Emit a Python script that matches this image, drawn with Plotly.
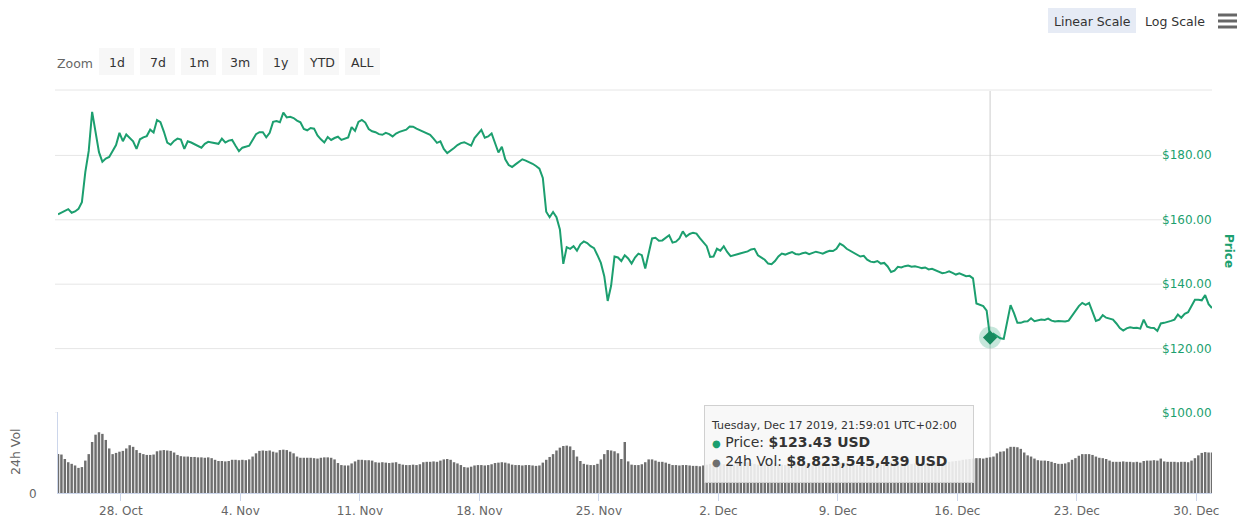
import pandas as pd
import plotly.graph_objects as go

# ---- data -------------------------------------------------------------
# sampling: one point every 4h48m, local time (UTC+02:00)
start_time = "2019-10-24 07:35:01"
step = "4h48min"

price_usd = [
    161.7, 162.3, 162.8, 163.3, 162.2, 162.6, 163.4, 165.5, 174.8, 181.4,
    193.5, 187.0, 181.0, 178.0, 179.0, 179.5, 181.6, 183.2, 187.0, 184.4,
    186.5, 185.3, 184.4, 182.0, 185.0, 185.6, 186.0, 188.0, 187.1, 191.0,
    190.3, 187.4, 184.0, 183.3, 184.5, 185.2, 184.9, 182.0, 184.4, 184.0,
    183.5, 183.0, 182.4, 183.6, 184.2, 184.0, 183.8, 183.6, 185.2, 184.0,
    184.6, 184.8, 183.0, 181.3, 182.4, 182.6, 183.0, 184.8, 186.6, 187.2,
    187.2, 185.6, 187.0, 190.4, 190.7, 190.3, 193.3, 191.8, 192.0, 191.6,
    190.8, 190.3, 188.2, 187.8, 188.5, 188.3, 186.2, 185.0, 184.0, 185.7,
    184.8, 185.4, 185.8, 184.8, 185.2, 185.6, 188.8, 187.6, 190.4, 191.0,
    190.2, 188.2, 187.5, 187.2, 186.6, 186.4, 187.0, 186.6, 185.9, 186.8,
    187.3, 187.6, 188.0, 189.0, 188.9, 188.3, 187.8, 187.4, 187.0, 186.4,
    185.2, 183.9, 184.4, 182.0, 180.7, 181.4, 182.3, 183.2, 183.8, 184.1,
    183.6, 183.0, 185.4, 186.8, 187.9, 185.5, 185.9, 186.8, 184.0, 180.9,
    182.7, 178.8, 177.0, 176.4, 177.2, 178.0, 178.8, 178.4, 178.0, 177.4,
    176.7, 175.9, 173.0, 162.5, 160.8, 162.4, 160.8, 157.0, 146.3, 151.5,
    151.0, 151.8, 150.4, 152.4, 153.3, 152.8, 151.8, 151.2, 149.0, 146.6,
    142.5, 134.8, 139.5, 148.6, 148.3, 147.2, 149.0, 148.0, 146.4, 148.3,
    149.5, 149.0, 144.9, 150.0, 154.2, 154.4, 153.5, 153.6, 154.3, 155.2,
    152.9, 153.2, 154.2, 156.4, 154.8, 155.6, 156.0, 155.7, 154.3, 153.2,
    151.8, 148.5, 148.6, 151.0, 150.4, 151.8, 150.0, 148.7, 148.9, 149.3,
    149.6, 149.8, 150.2, 150.8, 151.0, 149.0, 148.4, 147.6, 146.4, 146.2,
    147.2, 148.6, 149.5, 149.2, 149.6, 150.0, 149.4, 149.2, 149.6, 149.8,
    149.3, 149.6, 150.1, 149.8, 149.5, 150.0, 150.4, 150.3, 151.0, 152.6,
    152.0, 151.0, 150.4, 149.6, 149.2, 148.6, 148.8, 147.6, 147.0, 146.8,
    147.2, 146.4, 146.6, 145.5, 143.8, 144.2, 145.4, 145.2, 145.6, 145.8,
    145.4, 145.6, 145.3, 145.0, 145.2, 144.6, 144.8, 144.4, 144.0, 143.4,
    143.6, 144.0, 143.5, 143.0, 143.4, 143.0, 142.5, 142.6, 141.8, 134.0,
    133.5, 133.2, 131.8, 123.43, 124.6, 124.0, 123.2, 123.0, 128.5, 133.5,
    131.0, 128.0, 128.0, 128.4, 128.5, 129.4, 128.5, 128.8, 129.0, 128.9,
    129.3, 128.7, 128.4, 128.6, 128.5, 128.4, 128.7, 130.3, 132.0, 133.2,
    134.2, 133.6, 134.2, 131.5, 128.6, 129.0, 130.4, 129.6, 129.4, 129.0,
    127.8, 126.4, 125.6, 126.3, 126.6, 126.4, 126.5, 126.2, 129.0, 126.8,
    126.5, 126.4, 125.5, 127.8, 128.0, 128.2, 128.6, 129.0, 130.6, 129.6,
    130.8, 131.3, 133.4, 135.2, 135.2, 135.0, 136.6, 133.8, 132.6,
]

# 24h volume, billions of USD
volume_busd = [
    9.6, 9.5, 8.4, 7.6, 7.2, 6.8, 6.2, 6.4, 8.0, 9.6,
    12.6, 14.4, 15.0, 14.6, 13.1, 11.0, 9.6, 9.9, 10.2, 10.4,
    11.0, 11.8, 11.4, 10.6, 9.9, 9.6, 9.4, 9.4, 9.5, 10.3,
    10.5, 10.6, 10.5, 10.4, 10.0, 9.4, 9.1, 9.0, 9.0, 8.9,
    8.9, 8.8, 8.8, 8.7, 8.8, 8.6, 8.2, 7.9, 7.9, 7.8,
    7.9, 8.2, 8.2, 8.1, 8.2, 8.1, 8.3, 9.0, 9.8, 10.4,
    10.5, 10.4, 10.5, 10.2, 10.0, 10.6, 10.7, 10.6, 10.2, 9.8,
    9.0, 8.7, 8.7, 8.7, 8.7, 8.6, 8.5, 8.7, 8.8, 8.8,
    8.7, 8.3, 7.4, 6.9, 6.8, 6.8, 7.3, 7.8, 8.2, 8.2,
    8.1, 8.1, 8.0, 7.6, 7.5, 7.6, 7.5, 7.4, 7.5, 7.6,
    7.2, 7.0, 6.9, 6.9, 7.0, 6.9, 7.1, 7.6, 7.7, 7.7,
    7.8, 7.7, 8.0, 8.3, 8.4, 8.2, 7.6, 7.3, 6.9, 6.4,
    6.3, 6.5, 6.8, 6.9, 6.9, 6.8, 6.9, 7.1, 7.4, 7.5,
    7.6, 7.5, 7.3, 7.0, 6.9, 6.9, 6.8, 6.9, 6.9, 6.8,
    6.7, 6.8, 7.5, 8.2, 8.9, 9.6, 10.5, 11.2, 11.6, 11.7,
    11.5, 10.6, 9.0, 7.9, 7.2, 7.0, 6.9, 6.9, 7.2, 8.3,
    9.6, 10.6, 10.5, 10.3, 9.8, 8.4, 12.6, 7.8, 7.0, 6.9,
    6.9, 7.1, 7.6, 8.3, 8.3, 8.0, 7.7, 7.7, 7.5, 7.2,
    6.9, 6.9, 6.8, 6.9, 6.9, 6.8, 6.7, 6.7, 6.6, 6.8,
    7.0, 7.2, 7.3, 7.4, 7.3, 7.1, 7.0, 6.9, 7.0, 7.2,
    7.5, 7.7, 7.6, 7.4, 7.2, 7.0, 6.9, 7.0, 7.3, 7.5,
    7.4, 7.2, 7.0, 6.9, 6.8, 6.9, 7.1, 7.2, 7.0, 6.9,
    6.8, 6.8, 7.0, 7.3, 7.5, 7.4, 7.2, 7.0, 7.1, 7.4,
    7.6, 7.5, 7.2, 7.0, 6.9, 6.9, 7.0, 7.2, 7.4, 7.3,
    7.1, 7.0, 7.2, 7.6, 7.8, 7.7, 7.5, 7.3, 7.2, 7.1,
    7.2, 7.3, 7.4, 7.3, 7.2, 7.3, 7.5, 7.6, 7.5, 7.4,
    7.5, 7.7, 7.8, 7.9, 8.0, 8.2, 8.3, 8.4, 8.5, 8.6,
    8.6, 8.5, 8.7, 8.823545439, 9.0, 9.8, 10.2, 10.3, 11.0, 11.4,
    11.4, 11.3, 10.9, 10.0, 9.3, 9.0, 8.5, 8.1, 8.0, 8.0,
    7.9, 7.7, 7.4, 7.2, 7.2, 7.3, 7.6, 8.2, 8.6, 9.2,
    9.6, 9.6, 9.6, 9.4, 9.0, 8.7, 8.6, 8.4, 8.0, 7.7,
    7.7, 7.7, 7.8, 7.7, 7.7, 7.6, 7.7, 7.5, 7.9, 8.0,
    8.0, 8.1, 8.0, 8.5, 7.8, 7.7, 7.7, 7.7, 7.6, 7.7,
    7.7, 7.6, 8.0, 8.6, 9.3, 9.9, 10.1, 10.0, 10.0,
]

price_ticks = [100, 120, 140, 160, 180]
range_buttons = ["1d", "7d", "1m", "3m", "1y", "YTD", "ALL"]
highlight = 273  # point under the crosshair

times = pd.date_range(start_time, periods=len(price_usd), freq=step)
volume_usd = [v * 1e9 for v in volume_busd]

# ---- styling ----------------------------------------------------------
W, H = 1242, 517
ML, MR, MT, MB = 58, 30, 91, 24
PW = W - ML - MR
PH = H - MT - MB
FONT = "DejaVu Sans"
GREEN = "#1c9f6f"
BAR = "#6e6e6e"
GRID = "#e6e6e6"
AXIS = "#ccd6eb"
PRICE_RANGE = [100, 200]
VOL_RANGE = [0, 20e9]


def px(x):
    return (x - ML) / PW


def py(y):
    return (H - MB - y) / PH


fig = go.Figure()

fig.add_trace(go.Bar(
    x=times, y=volume_usd, yaxis="y2",
    marker=dict(color=BAR, line=dict(width=0)),
    name="24h Vol", showlegend=False,
))
fig.add_trace(go.Scatter(
    x=times, y=price_usd, yaxis="y", mode="lines",
    line=dict(color=GREEN, width=2), name="Price", showlegend=False,
))
# hovered point: halo + diamond
hx, hy = times[highlight], price_usd[highlight]
fig.add_trace(go.Scatter(
    x=[hx], y=[hy], yaxis="y", mode="markers",
    marker=dict(size=22, color="rgba(28,159,111,0.25)"),
    showlegend=False, hoverinfo="skip",
))
fig.add_trace(go.Scatter(
    x=[hx], y=[hy], yaxis="y", mode="markers",
    marker=dict(size=11, symbol="diamond", color="#178a5f"),
    showlegend=False, hoverinfo="skip",
))

shapes = []
# horizontal grid lines stop short of the price labels
for v in price_ticks:
    shapes.append(dict(type="line", xref="paper", yref="y", x0=px(55), x1=px(1162),
                       y0=v, y1=v, line=dict(color=GRID, width=1), layer="below"))
# top border
shapes.append(dict(type="line", xref="paper", yref="paper", x0=px(55), x1=px(1212),
                   y0=py(90), y1=py(90), line=dict(color=GRID, width=1), layer="below"))
# crosshair through both panes
shapes.append(dict(type="line", xref="x", yref="y", x0=hx, x1=hx,
                   y0=PRICE_RANGE[0], y1=PRICE_RANGE[1] + 0.5,
                   line=dict(color="#cccccc", width=1), layer="below"))
shapes.append(dict(type="line", xref="x", yref="y2", x0=hx, x1=hx,
                   y0=VOL_RANGE[0], y1=VOL_RANGE[1],
                   line=dict(color="#cccccc", width=1), layer="below"))
# range selector buttons
btn_left = [99, 140, 181, 222, 263, 304, 345]
for bx in btn_left:
    shapes.append(dict(type="rect", xref="paper", yref="paper",
                       x0=px(bx), x1=px(bx + 35), y0=py(75), y1=py(48),
                       fillcolor="#f7f7f7", line=dict(width=0)))
# scale toggle
shapes.append(dict(type="rect", xref="paper", yref="paper",
                   x0=px(1048), x1=px(1136), y0=py(33), y1=py(8),
                   fillcolor="#e6ebf5", line=dict(width=0)))
# menu icon
for yy in (15, 21, 27):
    shapes.append(dict(type="line", xref="paper", yref="paper",
                       x0=px(1218), x1=px(1237), y0=py(yy), y1=py(yy),
                       line=dict(color="#666666", width=3)))

annotations = []


def label(text, x, y, size=12.5, color="#333333", xanchor="center", angle=0):
    annotations.append(dict(text=text, x=px(x), y=py(y), xref="paper", yref="paper",
                            xanchor=xanchor, yanchor="middle", showarrow=False,
                            textangle=angle, font=dict(family=FONT, size=size, color=color)))


label("Zoom", 75, 63, color="#666666")
for bx, name in zip(btn_left, range_buttons):
    label(name, bx + 17.5, 62)
label("Linear Scale", 1092, 21)
label("Log Scale", 1175, 21)
label("<b>Price</b>", 1229, 251, size=12, color=GREEN, angle=90)
label("24h Vol", 15, 452, size=12.5, color="#666666", angle=-90)
label("0", 33, 494, size=12, color="#666666")

# price axis labels, drawn inside the plot on the right
for v in price_ticks:
    annotations.append(dict(text=f"${v:.2f}", x=px(1214), y=v, xref="paper", yref="y",
                            xanchor="right", yanchor="middle", showarrow=False,
                            font=dict(family=FONT, size=12, color=GREEN)))

# tooltip
t = times[highlight]
tip = (
    f"<span style='font-size:11px'>{t.strftime('%A, %b %d %Y, %H:%M:%S')} UTC+02:00</span><br>"
    f"<span style='color:{GREEN};font-size:10px'>●</span> Price: <b>${price_usd[highlight]:.2f} USD</b><br>"
    f"<span style='color:{BAR};font-size:10px'>●</span> 24h Vol: <b>${volume_usd[highlight]:,.0f} USD</b>"
)
annotations.append(dict(
    text=tip, xref="paper", yref="paper", x=px(704), y=py(405),
    xanchor="left", yanchor="top", align="left", valign="middle", showarrow=False,
    width=256, height=64,
    bgcolor="rgba(247,247,247,0.88)", bordercolor="#d0d0d0", borderwidth=1, borderpad=6,
    font=dict(family=FONT, size=14, color="#333333"),
))

fig.update_layout(
    width=W, height=H,
    margin=dict(l=ML, r=MR, t=MT, b=MB, autoexpand=False),
    paper_bgcolor="white", plot_bgcolor="white",
    font=dict(family=FONT, size=12, color="#666666"),
    bargap=0.28,
    showlegend=False,
    hovermode=False,
    shapes=shapes,
    annotations=annotations,
    xaxis=dict(
        type="date", anchor="y2", automargin=False,
        range=[times[0], times[-1]],
        tick0="2019-10-28", dtick=7 * 86400000, tickformat="%-d. %b",
        ticks="outside", ticklen=7, tickcolor=AXIS,
        showline=True, linecolor=AXIS, linewidth=1,
        showgrid=False, zeroline=False, ticklabeloverflow="allow",
        tickfont=dict(family=FONT, size=12, color="#666666"),
    ),
    yaxis=dict(
        domain=[py(413), 1], range=PRICE_RANGE, side="right", automargin=False,
        showticklabels=False, ticks="",
        showgrid=False, zeroline=False, showline=False,
    ),
    yaxis2=dict(
        domain=[0, py(412)], range=VOL_RANGE, side="left", automargin=False,
        showticklabels=False, ticks="", showgrid=False, zeroline=False,
        showline=True, linecolor=AXIS, linewidth=1,
    ),
)

fig.write_html("out.html", config={"displayModeBar": False})
